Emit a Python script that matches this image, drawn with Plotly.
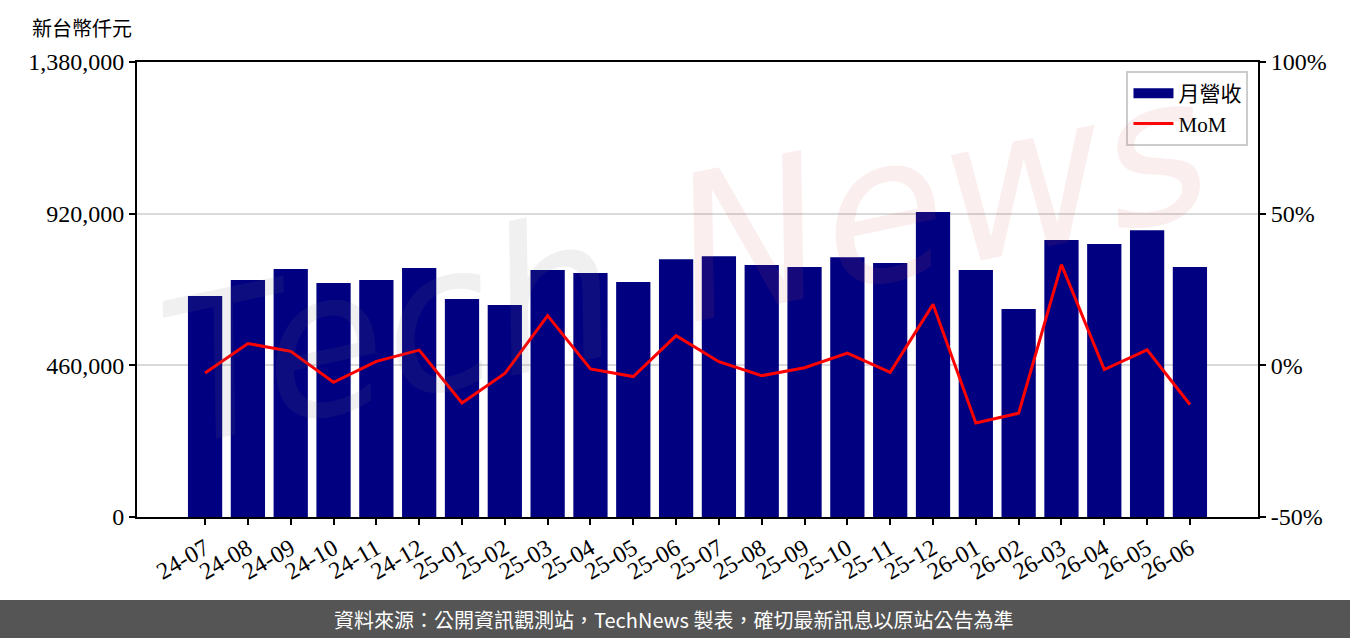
import plotly.graph_objects as go

months = ["24-07","24-08","24-09","24-10","24-11","24-12",
          "25-01","25-02","25-03","25-04","25-05","25-06",
          "25-07","25-08","25-09","25-10","25-11","25-12",
          "26-01","26-02","26-03","26-04","26-05","26-06"]
revenue = [670000, 719000, 752000, 710000, 719000, 755000,
           661000, 643000, 749000, 740000, 713000, 782000,
           791000, 764000, 758000, 788000, 770000, 925000,
           749000, 631000, 840000, 828000, 870000, 758000]
mom = [-2.5, 7.2, 4.6, -5.6, 1.3, 5.0,
       -12.4, -2.7, 16.4, -1.2, -3.7, 9.8,
       1.2, -3.4, -0.8, 4.0, -2.3, 20.1,
       -19.0, -15.8, 33.2, -1.4, 5.1, -12.9]
left_ticks = [0, 460000, 920000, 1380000]
left_labels = ["0", "460,000", "920,000", "1,380,000"]
right_ticks = [-50, 0, 50, 100]
right_labels = ["-50%", "0%", "50%", "100%"]

serif = "Liberation Serif, Noto Sans CJK TC, serif"
TICK = 24

fig = go.Figure()
fig.add_trace(go.Bar(x=months, y=revenue, name="月營收", marker_color="#000080",
                     marker_line_width=0, width=0.8, showlegend=False))
# legend proxy for the bar series (wide rectangle patch)
fig.add_trace(go.Scatter(x=[None], y=[None], name="月營收", mode="lines",
                         line=dict(color="#000080", width=17)))
fig.add_trace(go.Scatter(x=months, y=mom, name="MoM", yaxis="y2", mode="lines",
                         line=dict(color="#ff0000", width=3)))

fig.update_layout(
    width=1350, height=638,
    margin=dict(l=137, r=92, t=62, b=121),
    plot_bgcolor="white", paper_bgcolor="white",
    font=dict(family=serif, size=20, color="black"),
    bargap=0.2,
    xaxis=dict(type="category", range=[-1.59, 24.59], tickangle=-30,
               ticks="outside", ticklen=6, tickwidth=2, tickcolor="black",
               showline=True, linecolor="black", linewidth=2, mirror=True,
               showgrid=False, tickfont=dict(size=TICK)),
    yaxis=dict(range=[0, 1380000], tickvals=left_ticks, ticktext=left_labels,
               ticks="outside", ticklen=6, tickwidth=2, tickcolor="black",
               showline=True, linecolor="black", linewidth=2,
               showgrid=True, gridcolor="#d9d9d9", gridwidth=2, zeroline=False,
               tickfont=dict(size=TICK)),
    yaxis2=dict(range=[-50, 100], tickvals=right_ticks, ticktext=right_labels,
                overlaying="y", side="right",
                ticks="outside", ticklen=6, tickwidth=2, tickcolor="black",
                showline=True, linecolor="black", linewidth=2,
                showgrid=False, zeroline=False, tickfont=dict(size=TICK)),
    legend=dict(x=0.9915, y=0.98, xanchor="right", yanchor="top",
                bgcolor="white", bordercolor="#cccccc", borderwidth=2,
                font=dict(size=21), itemwidth=40, tracegroupgap=0),
    showlegend=True,
)

# watermark
fig.add_annotation(xref="paper", yref="paper", x=0.226, y=0.41, text="<i>Tech</i>",
                   showarrow=False, textangle=-12, xanchor="center", yanchor="middle",
                   font=dict(family="DejaVu Sans", size=200, color="rgba(120,120,120,0.11)"))
fig.add_annotation(xref="paper", yref="paper", x=0.716, y=0.70, text="<i>News</i>",
                   showarrow=False, textangle=-12, xanchor="center", yanchor="middle",
                   font=dict(family="DejaVu Sans", size=200, color="rgba(220,90,90,0.10)"))

# y-axis unit title
fig.add_annotation(xref="paper", yref="paper", x=-107/1121, y=1.0, yshift=35,
                   xanchor="left", yanchor="middle", text="新台幣仟元", showarrow=False,
                   font=dict(family="Noto Sans CJK TC", size=20, color="black"))

# footer band
fig.add_shape(type="rect", xref="paper", yref="paper",
              x0=-0.2, x1=1.2, y0=-121/455, y1=-83/455,
              fillcolor="#555555", line_width=0, layer="above")
fig.add_annotation(xref="paper", yref="paper", x=0.4785, y=-102/455,
                   text="資料來源：公開資訊觀測站，TechNews 製表，確切最新訊息以原站公告為準",
                   showarrow=False, xanchor="center", yanchor="middle",
                   font=dict(family="Noto Sans CJK TC", size=20, color="white"))

fig.write_html("out.html")
